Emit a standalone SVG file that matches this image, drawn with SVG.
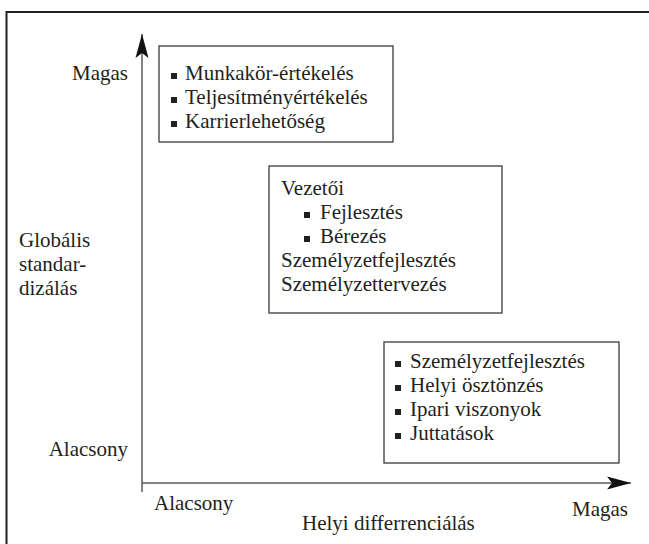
<svg xmlns="http://www.w3.org/2000/svg" width="649" height="544" viewBox="0 0 649 544">
<style>
text{font-family:"Liberation Serif","Times New Roman",serif;font-size:21px;fill:#231f20}
.box{fill:#fff;stroke:#3a3a3a;stroke-width:1.3}
.ax{stroke:#5a5a5a;stroke-width:1.5;fill:none}
.b{fill:#231f20}
</style>
<defs>
<marker id="ah" markerUnits="userSpaceOnUse" viewBox="-25 -7 26 14" refX="0" refY="0" markerWidth="26" markerHeight="14" orient="auto">
<path d="M0,0 L-24,-6.5 L-19,0 L-24,6.5 Z" fill="#111"/>
</marker>
</defs>
<rect x="0" y="0" width="649" height="544" fill="#fff"/>
<path d="M6.5,544 V12 H649" fill="none" stroke="#222" stroke-width="2"/>
<g id="connectors">
<path class="ax" d="M142,492 V34" marker-end="url(#ah)"/>
<path class="ax" d="M142,483 H631" marker-end="url(#ah)"/>
</g>
<g id="axis-labels">
<text x="128" y="80" text-anchor="end">Magas</text>
<text x="19" y="247">Globális</text>
<text x="19" y="271">standar-</text>
<text x="19" y="295">dizálás</text>
<text x="128" y="456" text-anchor="end">Alacsony</text>
<text x="154" y="510">Alacsony</text>
<text x="628" y="516" text-anchor="end">Magas</text>
<text x="302" y="530">Helyi differrenciálás</text>
</g>
<g id="box1">
<rect class="box" x="159" y="46" width="234" height="96"/>
<rect class="b" x="171" y="73" width="6" height="6"/><text x="185" y="80">Munkakör-értékelés</text>
<rect class="b" x="171" y="97" width="6" height="6"/><text x="185" y="104">Teljesítményértékelés</text>
<rect class="b" x="171" y="121" width="6" height="6"/><text x="185" y="128">Karrierlehetőség</text>
</g>
<g id="box2">
<rect class="box" x="269" y="166" width="233" height="147"/>
<text x="281" y="195">Vezetői</text>
<rect class="b" x="304" y="212" width="6" height="6"/><text x="320" y="219">Fejlesztés</text>
<rect class="b" x="304" y="236" width="6" height="6"/><text x="320" y="243">Bérezés</text>
<text x="281" y="267">Személyzetfejlesztés</text>
<text x="281" y="291">Személyzettervezés</text>
</g>
<g id="box3">
<rect class="box" x="384" y="342" width="235" height="121"/>
<rect class="b" x="395" y="361" width="6" height="6"/><text x="410" y="368">Személyzetfejlesztés</text>
<rect class="b" x="395" y="385" width="6" height="6"/><text x="410" y="392">Helyi ösztönzés</text>
<rect class="b" x="395" y="409" width="6" height="6"/><text x="410" y="416">Ipari viszonyok</text>
<rect class="b" x="395" y="433" width="6" height="6"/><text x="410" y="440">Juttatások</text>
</g>
</svg>
